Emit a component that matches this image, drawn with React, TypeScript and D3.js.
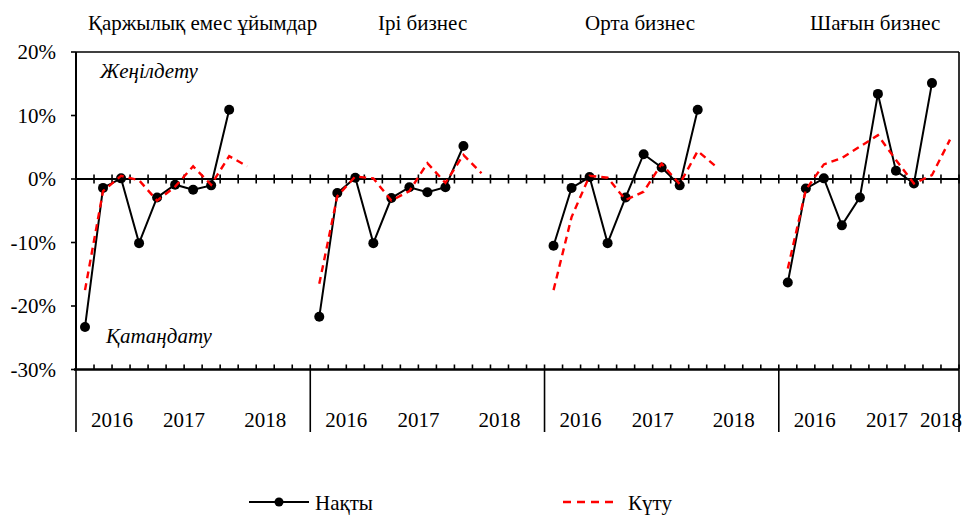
import React from "react";
import * as d3 from "d3";

// ---------- data ----------
const panelTitles = ["Қаржылық емес ұйымдар", "Ірі бизнес", "Орта бизнес", "Шағын бизнес"];
const yearLabels = ["2016", "2017", "2018"];
// quarters (slots) per year in each panel
const yearSlots = [
  [4, 4, 5],
  [4, 4, 5],
  [4, 4, 5],
  [4, 4, 2],
];
const yTicks = [20, 10, 0, -10, -20, -30];

// Нақты (actual), % by quarter, 2016Q1..2018Q1
const nfoActual = [-23.3, -1.4, 0.1, -10.1, -2.9, -0.9, -1.7, -1.0, 10.9];
const largeActual = [-21.7, -2.2, 0.2, -10.1, -3.0, -1.3, -2.1, -1.3, 5.2];
const mediumActual = [-10.5, -1.4, 0.3, -10.1, -2.9, 3.9, 1.8, -1.0, 10.9];
const smallActual = [-16.3, -1.5, 0.1, -7.3, -2.9, 13.4, 1.3, -0.7, 15.1];

// Күту (expected), % by quarter, 2016Q1..2018Q2
const nfoExpected = [-17.5, -1.9, 0.5, -0.2, -3.4, -1.2, 2.0, -0.9, 3.6, 2.0];
const largeExpected = [-16.5, -2.7, 0.4, 0.1, -3.4, -1.9, 2.5, -0.6, 3.8, 0.9];
const mediumExpected = [-17.5, -6.0, 0.5, 0.2, -3.3, -2.0, 2.4, -0.8, 4.4, 2.0];
const smallExpected = [-14.1, -1.7, 2.3, 3.3, 5.1, 6.9, 3.0, -0.7, 0.6, 6.2];

const actualSeries = [nfoActual, largeActual, mediumActual, smallActual];
const expectedSeries = [nfoExpected, largeExpected, mediumExpected, smallExpected];

const legendLabels = ["Нақты", "Күту"];
const easeLabel = "Жеңілдету";
const tightLabel = "Қатаңдату";

// ---------- layout ----------
const W = 962;
const H = 515;
const left = 76;
const right = 959;
const top = 52;
const bottom = 369.5;
const FONT = "'Liberation Serif', 'Times New Roman', 'DejaVu Serif', serif";
const FS = 21;

export default function App() {
  const panelSizes = yearSlots.map((ys) => d3.sum(ys));
  const totalSlots = d3.sum(panelSizes);
  const panelStart = panelSizes.map((_, i) => d3.sum(panelSizes.slice(0, i)));

  const x = d3
    .scaleBand<number>()
    .domain(d3.range(totalSlots))
    .range([left, right])
    .paddingInner(0)
    .paddingOuter(0);
  const bw = x.bandwidth();
  const y = d3.scaleLinear().domain([-30, 20]).range([bottom, top]);
  const y0 = y(0);

  const cx = (p: number, i: number) => (x(panelStart[p] + i) as number) + bw / 2;

  const line = d3
    .line<[number, number]>()
    .x((d) => d[0])
    .y((d) => d[1]);

  const boundaries = d3.range(totalSlots + 1).map((i) => left + i * bw);
  const separators: number[] = [];
  const yearCenters: { x: number; label: string }[] = [];
  yearSlots.forEach((ys, p) => {
    let acc = panelStart[p];
    separators.push(left + acc * bw);
    ys.forEach((n, k) => {
      yearCenters.push({ x: left + (acc + n / 2) * bw, label: yearLabels[k] });
      acc += n;
    });
  });
  separators.push(right);

  const titleX = [88, 378, 585, 810];
  const txt = { fontFamily: FONT, fontSize: FS };

  return (
    <>
      <style>{`body{margin:0}`}</style>
      <svg width={W} height={H} style={{ display: "block", background: "#fff", fontFamily: FONT }}>
        {/* frame */}
        <line x1={left} x2={right} y1={top} y2={top} stroke="#000" strokeWidth={1.6} />
        <line x1={right} x2={right} y1={top} y2={bottom} stroke="#000" strokeWidth={1.6} />
        <line x1={left} x2={left} y1={top} y2={bottom} stroke="#000" strokeWidth={2} />
        {/* y ticks & labels */}
        {yTicks.map((t) => (
          <g key={t}>
            <line x1={left - 5} x2={left} y1={y(t)} y2={y(t)} stroke="#000" strokeWidth={1.6} />
            <text x={56} y={y(t) + 7} textAnchor="end" style={txt}>
              {t}%
            </text>
          </g>
        ))}
        {/* zero axis with cross ticks */}
        <line x1={left} x2={right} y1={y0} y2={y0} stroke="#000" strokeWidth={2} />
        {boundaries.map((b, i) => (
          <line key={"z" + i} x1={b} x2={b} y1={y0 - 4.5} y2={y0 + 4.5} stroke="#000" strokeWidth={1.6} />
        ))}
        {/* bottom axis */}
        <line x1={left - 2} x2={right} y1={bottom} y2={bottom} stroke="#000" strokeWidth={2.4} />
        {boundaries.map((b, i) => (
          <line key={"b" + i} x1={b} x2={b} y1={bottom - 5} y2={bottom} stroke="#000" strokeWidth={1.6} />
        ))}
        {separators.map((s, i) => (
          <line key={"s" + i} x1={s} x2={s} y1={bottom} y2={432} stroke="#000" strokeWidth={1.6} />
        ))}
        {yearCenters.map((yc, i) => (
          <text key={"y" + i} x={yc.x} y={427} textAnchor="middle" style={txt}>
            {yc.label}
          </text>
        ))}
        {/* titles */}
        {panelTitles.map((t, i) => (
          <text key={t} x={titleX[i]} y={30} style={txt}>
            {t}
          </text>
        ))}
        <text x={100} y={78} style={{ ...txt, fontStyle: "italic" }}>
          {easeLabel}
        </text>
        <text x={106} y={343} style={{ ...txt, fontStyle: "italic" }}>
          {tightLabel}
        </text>
        {/* series */}
        {actualSeries.map((s, p) => {
          const pts = s.map((v, i) => [cx(p, i), y(v)] as [number, number]);
          return (
            <g key={"a" + p}>
              <path d={line(pts) || ""} fill="none" stroke="#000" strokeWidth={2} />
              {pts.map((pt, i) => (
                <circle key={i} cx={pt[0]} cy={pt[1]} r={5} fill="#000" />
              ))}
            </g>
          );
        })}
        {expectedSeries.map((s, p) => {
          const pts = s.map((v, i) => [cx(p, i), y(v)] as [number, number]);
          return (
            <path
              key={"e" + p}
              d={line(pts) || ""}
              fill="none"
              stroke="#ff0000"
              strokeWidth={2.4}
              strokeDasharray="7,5"
            />
          );
        })}
        {/* legend */}
        <line x1={249} x2={309} y1={502} y2={502} stroke="#000" strokeWidth={2} />
        <circle cx={279} cy={502} r={4.5} fill="#000" />
        <text x={315} y={510} style={txt}>
          {legendLabels[0]}
        </text>
        <line x1={563} x2={617} y1={502} y2={502} stroke="#ff0000" strokeWidth={2.4} strokeDasharray="8,6" />
        <text x={628} y={510} style={txt}>
          {legendLabels[1]}
        </text>
      </svg>
    </>
  );
}
